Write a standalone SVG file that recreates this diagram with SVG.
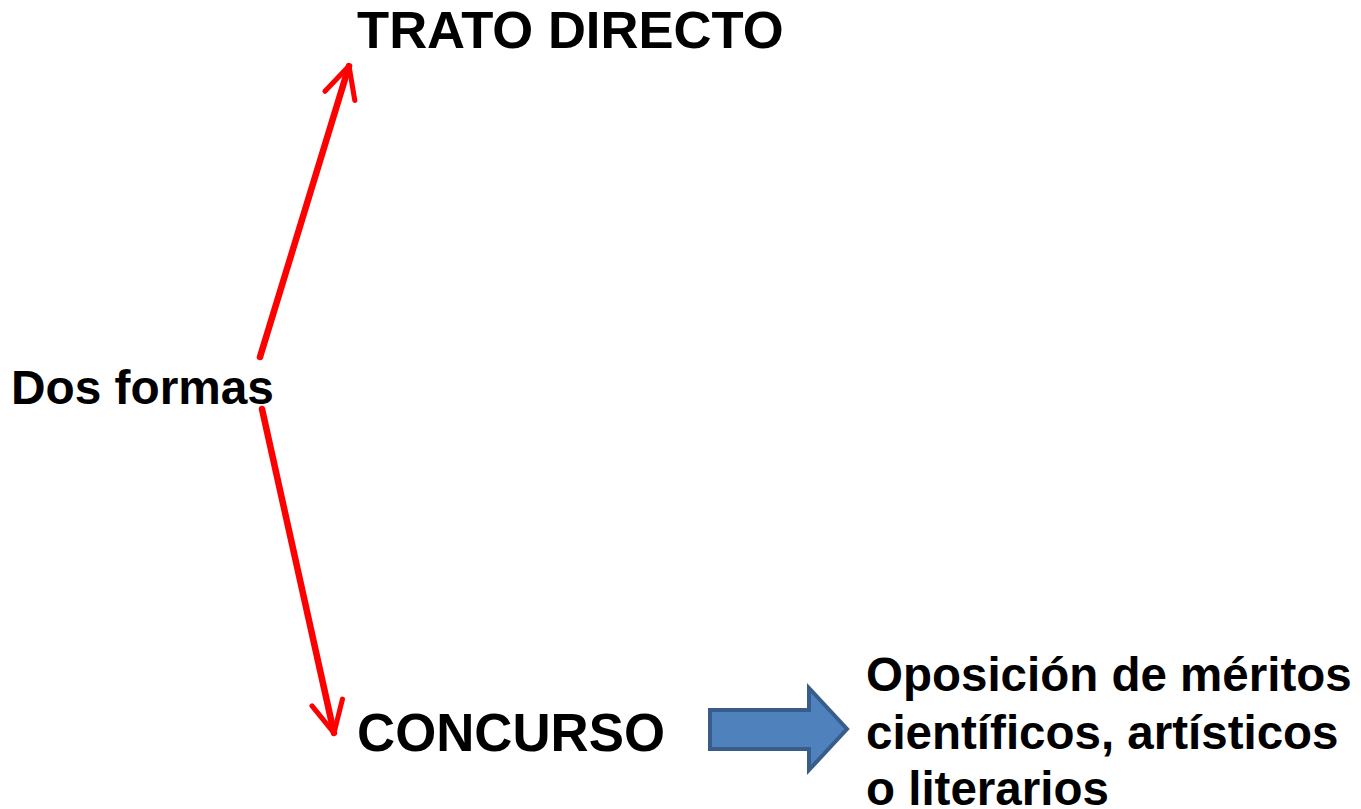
<svg xmlns="http://www.w3.org/2000/svg" width="1361" height="809" viewBox="0 0 1361 809">
<defs>
<style>
.t{font-family:"Liberation Sans",Arial,sans-serif;font-weight:bold;fill:#000}
.red{stroke:#ff0000;stroke-width:6.5;fill:none;stroke-linecap:round;stroke-linejoin:round}
</style>
<marker id="open" viewBox="0 0 10 10" refX="9" refY="5" markerWidth="6" markerHeight="6" markerUnits="strokeWidth" orient="auto">
<path d="M1,1 L9,5 L1,9" fill="none" stroke="#ff0000" stroke-width="1.3" stroke-linecap="round" stroke-linejoin="round"/>
</marker>
</defs>
<rect width="1361" height="809" fill="#ffffff"/>
<g id="connectors">
<line class="red" x1="260" y1="357" x2="349" y2="66" marker-end="url(#open)"/>
<line class="red" x1="262" y1="409" x2="334" y2="733" marker-end="url(#open)"/>
<path id="blue-arrow" d="M710,710 L809,710 L809,688 L847,729 L809,770 L809,749 L710,749 Z" fill="#4f81bd" stroke="#385d8a" stroke-width="4" stroke-linejoin="miter"/>
</g>
<g id="node-dos"><text class="t" x="11" y="404" font-size="47.8">Dos formas</text></g>
<g id="node-trato"><text class="t" x="357" y="48" font-size="52.6">TRATO DIRECTO</text></g>
<g id="node-concurso"><text class="t" x="357" y="751" font-size="52.8">CONCURSO</text></g>
<g id="node-oposicion">
<text class="t" font-size="47.5"><tspan x="866" y="691">Oposición de méritos</tspan><tspan x="866" y="749">científicos, artísticos</tspan><tspan x="866" y="805">o literarios</tspan></text>
</g>
</svg>
